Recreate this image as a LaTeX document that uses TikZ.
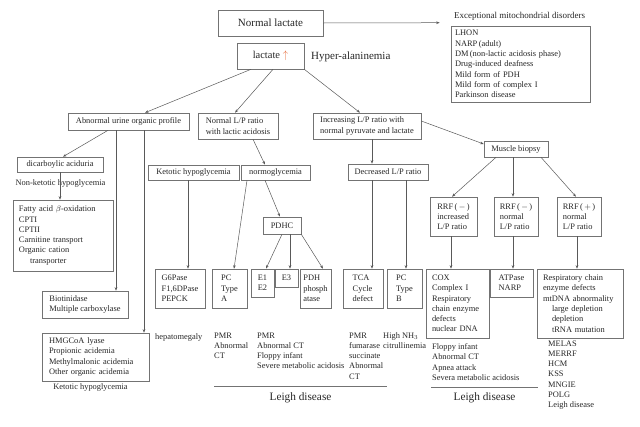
\documentclass[tikz,border=0pt]{standalone}
\usepackage{fontspec}
\setmainfont{Liberation Serif}
\usepackage{tikz}
\usetikzlibrary{positioning}
\usetikzlibrary{calc}
\usetikzlibrary{arrows.meta}
\colorlet{boxline}{black!55}
\colorlet{ink}{black!85}
\definecolor{up}{RGB}{232,112,64}
\newcommand{\boxfont}{\fontsize{8.4}{10.3}\selectfont}
\newcommand{\bigfont}{\fontsize{11}{13}\selectfont}
\tikzset{
    box/.style={draw=boxline, line width=0.6pt, fill=white, inner sep=0pt, align=left, text=ink, font=\boxfont},
    note/.style={inner sep=0pt, align=left, text=ink, font=\boxfont},
    arr/.style={draw=black!65, line width=0.5pt, -{Stealth[length=3.5pt,width=2.6pt]}},
}

\begin{document}
\begin{tikzpicture}[x=1pt,y=-1pt]
    \useasboundingbox (0,0) rectangle (640,426);

    % top
    \node [box, minimum width=105pt, minimum height=26pt, font=\bigfont] (normal) at (270.5,23) {Normal lactate};
    \node [box, minimum width=67pt, minimum height=26pt, font=\fontsize{10.5}{12}\selectfont] (lactate) at (270.5,56) {lactate \textcolor{up}{$\uparrow$}};
    \node [note, anchor=west, font=\bigfont] (hyper) at (311,57) {Hyper-alaninemia};
    \node [note, font=\fontsize{9}{11}\selectfont] (exctitle) at (519.5,16) {Exceptional mitochondrial disorders};
    \node [box, minimum width=139pt, minimum height=76pt, text width=131pt] (excbox) at (520.5,64)
        {LHON\\NARP\,(adult)\\DM\,(non-lactic acidosis phase)\\Drug-induced deafness\\Mild form of PDH\\Mild form of complex I\\Parkinson disease};

    % second row
    \node [box, minimum width=121pt, minimum height=17pt] (urine) at (128.5,121.5) {Abnormal urine organic profile};
    \node [box, minimum width=80pt, minimum height=26pt] (normlp) at (238,126) {Normal L/P ratio\\with lactic acidosis};
    \node [box, minimum width=108pt, minimum height=26pt] (incr) at (367,126) {Increasing L/P ratio with\\normal pyruvate and lactate};
    \node [box, minimum width=64pt, minimum height=16pt] (muscle) at (516,149) {Muscle biopsy};

    % organic acids branch
    \node [box, minimum width=86pt, minimum height=15pt] (dicarb) at (60,164.5) {dicarboylic aciduria};
    \node [note] (nonket) at (60.5,183) {Non-ketotic hypoglycemia};
    \node [box, minimum width=100pt, minimum height=71pt, text width=88pt] (fatty) at (63,235.5)
        {Fatty acid $\beta$-oxidation\\CPTI\\CPTII\\Carnitine transport\\Organic cation\\\hspace*{11pt}transporter};
    \node [box, minimum width=86pt, minimum height=27pt] (biotin) at (85,304.5) {Biotinidase\\Multiple carboxylase};
    \node [box, minimum width=107pt, minimum height=48pt, text width=93pt] (hmg) at (95.5,357)
        {HMGCoA lyase\\Propionic acidemia\\Methylmalonic acidemia\\Other organic acidemia};
    \node [note] (ketlow) at (90.5,387) {Ketotic hypoglycemia};
    \node [note, anchor=west] (hepato) at (155,337) {hepatomegaly};

    % normal L/P branch
    \node [box, minimum width=91pt, minimum height=15pt] (ketbox) at (193.5,172.5) {Ketotic hypoglycemia};
    \node [box, minimum width=69pt, minimum height=15pt] (normo) at (275.5,172.5) {normoglycemia};
    \node [box, minimum width=38pt, minimum height=17pt] (pdhc) at (282,225.5) {PDHC};
    \node [box, minimum width=50pt, minimum height=39pt] (g6p) at (180,288.5) {G6Pase\\F1,6DPase\\PEPCK};
    \node [box, minimum width=35pt, minimum height=39pt] (pca) at (229.5,288.5) {PC\\Type\\A};
    \node [box, minimum width=23pt, minimum height=28pt] (e12) at (262.5,283) {E1\\E2};
    \node [box, minimum width=23pt, minimum height=18pt] (e3) at (286.5,278) {E3};
    \node [box, minimum width=31pt, minimum height=39pt] (pdhp) at (315.5,288.5) {PDH\\phosph\\atase};

    % increasing L/P branch
    \node [box, minimum width=80pt, minimum height=16pt] (decr) at (388,172) {Decreased L/P ratio};
    \node [box, minimum width=40pt, minimum height=39pt] (tca) at (363,288.5) {TCA\\Cycle\\defect};
    \node [box, minimum width=35pt, minimum height=39pt] (pcb) at (404.5,288.5) {PC\\Type\\B};
    \node [box, minimum width=47pt, minimum height=39pt] (rrf1) at (453.5,216.5) {RRF\,(\,$-$\,)\\increased\\L/P ratio};
    \node [box, minimum width=44pt, minimum height=39pt] (rrf2) at (516,216.5) {RRF\,(\,$-$\,)\\normal\\L/P ratio};
    \node [box, minimum width=44pt, minimum height=39pt] (rrf3) at (579,216.5) {RRF\,(\,$+$\,)\\normal\\L/P ratio};
    \node [box, minimum width=63pt, minimum height=69pt, text width=51pt] (cox) at (457.5,303.5)
        {COX\\Complex I\\Respiratory\\chain enzyme\\defects\\nuclear DNA};
    \node [box, minimum width=43pt, minimum height=28pt] (atp) at (511.5,283) {ATPase\\NARP};
    \node [box, minimum width=86pt, minimum height=69pt, text width=74pt] (resp) at (580,303.5)
        {Respiratory chain\\enzyme defects\\mtDNA abnormality\\\hspace*{9pt}large depletion\\\hspace*{9pt}depletion\\\hspace*{9pt}tRNA mutation};

    % symptoms
    \node [note, anchor=north west] (pmra) at (214,332.3) {PMR\\Abnormal\\CT};
    \node [note, anchor=north west] (pmre) at (257,332.3) {PMR\\Abnormal CT\\Floppy infant\\Severe metabolic acidosis};
    \node [note, anchor=north west] (pmrt) at (349,332.3) {PMR\\fumarase\\succinate\\Abnormal\\CT};
    \node [note, anchor=north west] (nh3) at (383,332.3) {High NH$_3$\\citrullinemia};
    \node [note, anchor=north west] (floppy) at (432,343.3) {Floppy infant\\Abnormal CT\\Apnea attack\\Severa metabolic acidosis};
    \node [note, anchor=north west] (melas) at (548,340.3) {MELAS\\MERRF\\HCM\\KSS\\MNGIE\\POLG\\Leigh disease};

    \coordinate (rule1a) at (214,386);
    \coordinate (rule1b) at (387,386);
    \coordinate (rule2a) at (431,387);
    \coordinate (rule2b) at (538,387);
    \draw [boxline, line width=0.6pt] (rule1a) -- (rule1b);
    \draw [boxline, line width=0.6pt] (rule2a) -- (rule2b);
    \node [note, font=\fontsize{11.3}{13}\selectfont] (leigh1) at (300.5,398) {Leigh disease};
    \node [note, font=\fontsize{11.3}{13}\selectfont] (leigh2) at (484.5,398) {Leigh disease};

    % connectors
    \coordinate (u1) at ([xshift=-12.5pt]urine.south);
    \coordinate (u2) at ([xshift=15.5pt]urine.south);
    \coordinate (k1) at ([xshift=-5.5pt]ketbox.south);
    \coordinate (p3) at ([xshift=8pt]pdhc.south);
    \coordinate (i1) at ([xshift=5pt]incr.south);
    \coordinate (d1) at ([xshift=-16pt]decr.south);
    \coordinate (d2) at ([xshift=18pt]decr.south);
    \coordinate (m2) at ([xshift=-3pt]muscle.south);
    \coordinate (r1) at ([xshift=-2.5pt]rrf1.south);
    \coordinate (r2) at ([xshift=-3pt]rrf2.south);
    \coordinate (r3) at ([xshift=-2pt]rrf3.south);

    \draw [arr] (normal.east) -- ([xshift=-11pt,yshift=3pt]excbox.north west);
    \draw [arr] ([xshift=-19.5pt]lactate.south) -- ([xshift=16.5pt]urine.north);
    \draw [arr] ([xshift=2.5pt]lactate.south) -- ([xshift=-3pt]normlp.north);
    \draw [arr] (lactate.south east) -- ([xshift=-7pt]incr.north);

    \draw [arr] ([xshift=-20.5pt]urine.south) -- ([xshift=3pt]dicarb.north);
    \draw [arr] (u1) -- (u1 |- biotin.north);
    \draw [arr] (u2) -- (u2 |- hmg.north);
    \draw [arr] (dicarb.south) -- (dicarb.south |- fatty.north);

    \draw [arr] (k1) -- (k1 |- g6p.north);
    \draw [arr] ([xshift=15pt]normlp.south) -- ([xshift=-10.5pt]normo.north);
    \draw [arr] ([xshift=-28.5pt]normo.south) -- ([xshift=4.5pt]pca.north);
    \draw [arr] ([xshift=-10.5pt]normo.south) -- ([xshift=-2pt]pdhc.north);
    \draw [arr] (pdhc.south) -- ([xshift=3.5pt]e12.north);
    \draw [arr] (p3) -- (p3 |- e3.north);
    \draw [arr] (pdhc.south east) -- ([xshift=7.5pt]pdhp.north);

    \draw [arr] (i1) -- (i1 |- decr.north);
    \draw [arr] (d1) -- (d1 |- tca.north);
    \draw [arr] (d2) -- (d2 |- pcb.north);
    \draw [arr] ([yshift=5pt]incr.east) -- ([yshift=5pt]muscle.west);
    \draw [arr] ([xshift=-20pt]muscle.south) -- ([xshift=-1.5pt]rrf1.north);
    \draw [arr] (m2) -- (m2 |- rrf2.north);
    \draw [arr] ([xshift=25pt]muscle.south) -- ([xshift=-3pt]rrf3.north);
    \draw [arr] (r1) -- (r1 |- cox.north);
    \draw [arr] (r2) -- (r2 |- atp.north);
    \draw [arr] (r3) -- (r3 |- resp.north);
\end{tikzpicture}
\end{document}
